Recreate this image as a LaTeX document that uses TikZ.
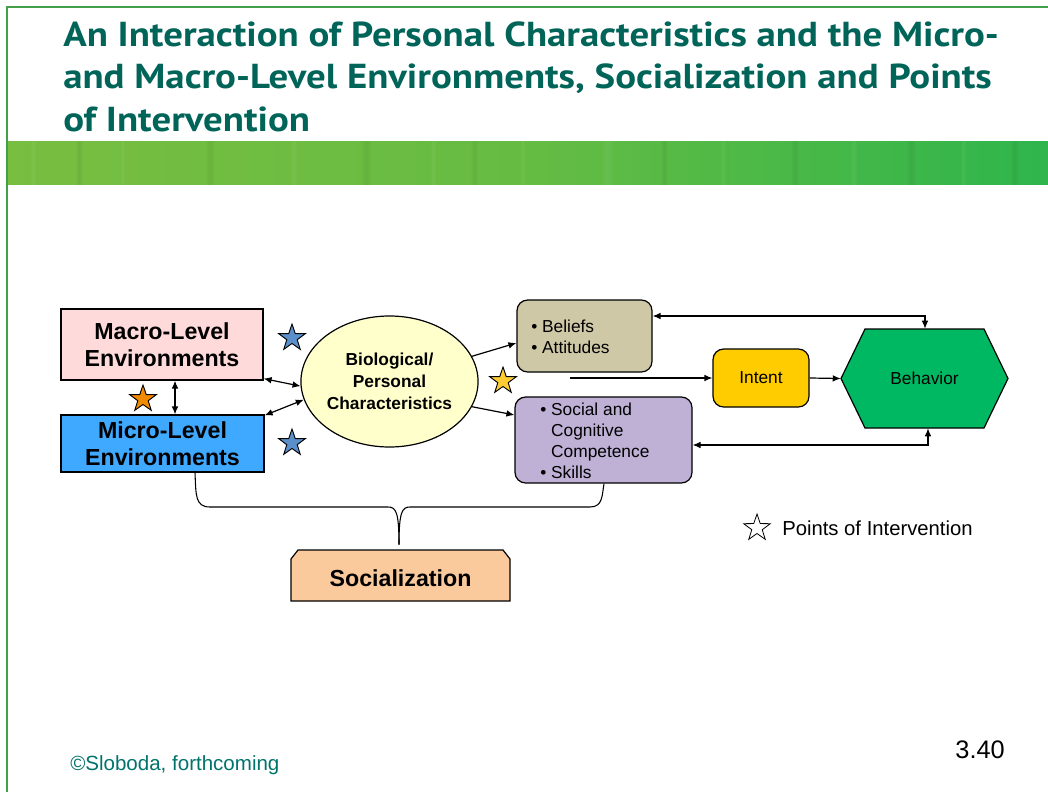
\documentclass[tikz,border=0pt]{standalone}
\usepackage{fontspec}
\setmainfont{Liberation Sans}
\newfontfamily\titlefont[FakeStretch=1.12]{PT Sans}
\usetikzlibrary{arrows.meta,shapes.geometric,calc}
\definecolor{titleteal}{HTML}{006459}
\definecolor{footteal}{HTML}{00736B}
\definecolor{bordergreen}{HTML}{44A048}
\definecolor{bandL}{HTML}{78BE40}
\definecolor{bandR}{HTML}{2EB54C}
\definecolor{macrofill}{HTML}{FFDADA}
\definecolor{microfill}{HTML}{3FA8FF}
\definecolor{biofill}{HTML}{FFFFCC}
\definecolor{belieffill}{HTML}{CFC8A7}
\definecolor{socialfill}{HTML}{BFB1D6}
\definecolor{intentfill}{HTML}{FFCC00}
\definecolor{behavfill}{HTML}{00B862}
\definecolor{socfill}{HTML}{FACA9D}
\definecolor{starblue}{HTML}{5B8FC9}
\definecolor{starorange}{HTML}{F08A00}
\definecolor{staryellow}{HTML}{FFCC33}
\tikzset{
  sqbox/.style={draw=black, line width=0.9pt, inner sep=0pt, font=\fontsize{17.4}{20.5}\selectfont\bfseries, align=center},
  rbox/.style={draw=black, line width=0.9pt, rounded corners=8pt, inner sep=0pt},
  conn/.style={line width=0.9pt, draw=black},
  tip/.style={-{Latex[length=6pt,width=5pt]}},
  dtip/.style={{Latex[length=6pt,width=5pt]}-{Latex[length=6pt,width=5pt]}},
  pstar/.style={star, star points=5, star point ratio=2.55, minimum size=21pt, inner sep=0pt, draw=black, line width=0.7pt},
  bodytext/.style={font=\fontsize{13}{15.75}\selectfont, align=left, inner sep=0pt},
  titletext/.style={anchor=base west, text=titleteal, inner sep=0pt, font=\titlefont\fontsize{26}{31.5}\selectfont\bfseries}
}
\begin{document}
\begin{tikzpicture}[x=0.75pt,y=-0.75pt]
\useasboundingbox (0,0) rectangle (1048,792);
% frame
\draw[bordergreen, line width=1.5pt] (7,792) -- (7,7) -- (1048,7);
% band
\shade[left color=bandL, right color=bandR, middle color=bandL!75!bandR] (8,141) rectangle (1048,184);
\foreach \x/\w/\c in {30/6/white,75/8/black,120/5/white,205/10/black,290/7/white,360/12/black,430/6/white,470/9/black,520/5/white,600/14/white,660/8/black,720/6/white,790/10/black,850/7/white,905/12/black,960/6/white,1010/9/black}{
  \shade[left color=bandL, right color=bandL, middle color=\c, opacity=0.06] (\x,141) rectangle (\x+\w,184);
}
% title
\node[titletext] (t1) at (63,47) {An Interaction of Personal Characteristics and the Micro-};
\node[titletext] (t2) at (63,89) {and Macro-Level Environments, Socialization and Points};
\node[titletext] (t3) at (63,131) {of Intervention};

% boxes
\node[sqbox, fill=macrofill, minimum width=202pt*0.75, minimum height=71pt*0.75] (macro) at (162,344.5) {Macro-Level\\Environments};
\node[sqbox, fill=microfill, minimum width=203pt*0.75, minimum height=57pt*0.75] (micro) at (162.5,443.5) {Micro-Level\\Environments};
\node[ellipse, draw=black, line width=0.9pt, fill=biofill, minimum width=173pt*0.75, minimum height=131pt*0.75, inner sep=0pt, align=center, font=\fontsize{13}{16.5}\selectfont\bfseries] (bio) at (389.5,381.5) {Biological/\\Personal\\Characteristics};
\node[rbox, fill=belieffill, minimum width=135pt*0.75, minimum height=72pt*0.75] (beliefs) at (584.5,336) {};
\node[bodytext, anchor=north west] (beliefstxt) at (531,319.5) {\textbullet\ Beliefs\\\textbullet\ Attitudes};
\node[rbox, fill=socialfill, minimum width=177pt*0.75, minimum height=86pt*0.75] (social) at (603.5,440) {};
\node[bodytext, anchor=north west] (socialtxt) at (540,402.5) {\textbullet\ Social and\\\hphantom{\textbullet\ }Cognitive\\\hphantom{\textbullet\ }Competence\\\textbullet\ Skills};
\node[rbox, fill=intentfill, minimum width=96pt*0.75, minimum height=58pt*0.75, font=\fontsize{13}{15}\selectfont] (intent) at (761,378) {Intent};
% behavior hexagon
\fill[behavfill, draw=black, line width=0.9pt] (841,378.5) -- (865,329) -- (984,329) -- (1008,378.5) -- (984,428) -- (865,428) -- cycle;
\node[minimum width=167pt*0.75, minimum height=99pt*0.75, inner sep=0pt, font=\fontsize{13}{15}\selectfont] (behavior) at (924.5,378.5) {Behavior};
% socialization
\fill[socfill, draw=black, line width=0.9pt] (291,601) -- (291,559) -- (298,550) -- (503,550) -- (510,559) -- (510,601) -- cycle;
\node[minimum width=219pt*0.75, minimum height=51pt*0.75, inner sep=0pt, font=\fontsize{17.4}{20}\selectfont\bfseries] (soc) at (400.5,575.5) {\vphantom{S}};
\node[inner sep=0pt, font=\fontsize{17.4}{20}\selectfont\bfseries] (soctxt) at (400.5,578.5) {Socialization};

% stars
\node[pstar, fill=starblue] (s1) at (292,338) {};
\node[pstar, fill=starblue] (s2) at (292,443) {};
\node[pstar, fill=starorange] (s3) at (143,399) {};
\node[pstar, fill=staryellow] (s4) at (503,381) {};
\node[pstar, fill=white, line width=0.6pt] (s5) at (757,528) {};
\node[anchor=west, inner sep=0pt, font=\fontsize{15.2}{17}\selectfont] (legend) at (782,528) {Points of Intervention};

% connectors
\draw[conn, dtip] (macro.south -| 175,0) -- (micro.north -| 175,0);
\draw[conn, dtip] ($(macro.south east)+(0,-2)$) -- (bio.183);
\draw[conn, dtip] ($(micro.north east)+(0,1)$) -- (bio.192);
\draw[conn, tip] (bio.17) -- (beliefs.west |- 0,343);
\draw[conn, tip] (bio.-17) -- (social.west |- 0,415);
\coordinate (istart) at (570,378);
\draw[conn, tip] (istart) -- (intent.west);
\draw[conn, tip] (intent.east) -- (behavior.west);
\draw[conn, dtip] (beliefs.east |- 0,316) -- (925,316) -- (behavior.north -| 925,0);
\draw[conn, dtip] (social.east |- 0,445) -- (928,445) -- (behavior.south -| 928,0);
% brace
\coordinate (bl) at (micro.south -| 195,0);
\coordinate (br) at (social.south -| 604,0);
\coordinate (bm) at ($(soc.north)+(-1.5,-5)$);
\draw[conn, line width=0.8pt] (bl) .. controls (196,495) and (195,507) .. (210,507) -- (388,507) .. controls (396,507) and (399,512) .. (bm);
\draw[conn, line width=0.8pt] (br) .. controls (602,495) and (603,507) .. (590,507) -- (410,507) .. controls (402,507) and (399,512) .. (bm);

% footer
\node[anchor=base west, inner sep=0pt, text=footteal, font=\fontsize{15.4}{18}\selectfont] (foot) at (70,770) {\textcopyright Sloboda, forthcoming};
\node[anchor=base east, inner sep=0pt, font=\fontsize{19}{22}\selectfont] (pagenum) at (1005,758) {3.40};
\end{tikzpicture}
\end{document}
